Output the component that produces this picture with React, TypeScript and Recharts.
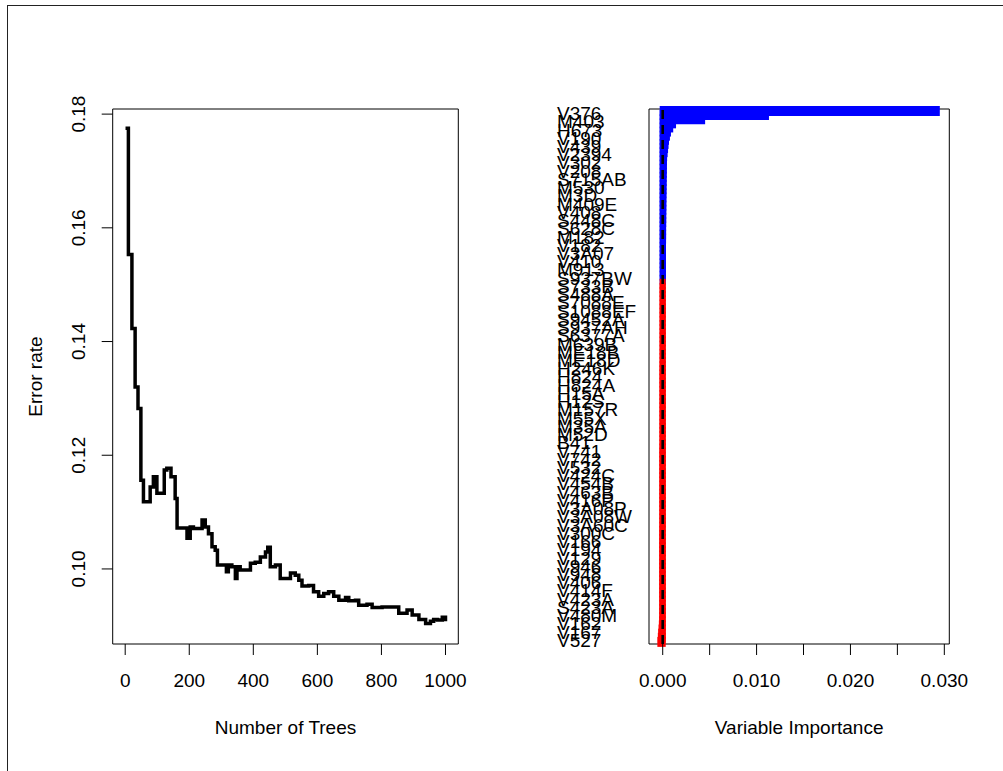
import React from 'react';
import {
  LineChart,
  Line,
  BarChart,
  Bar,
  Cell,
  XAxis,
  YAxis,
  Label,
  ReferenceArea,
  ReferenceLine,
} from 'recharts';

const FONT = '"Liberation Sans", Arial, Helvetica, sans-serif';
const BLUE = '#0000ff';
const RED = '#ff0000';

// OOB error rate: tree count where the rate changes, and the rate from there on
const treeSteps = [
  1, 10, 21, 31, 40, 49, 57, 78, 88, 99, 122, 130, 143, 156, 162, 193, 203, 213, 240, 250,
  260, 271, 281, 288, 316, 322, 333, 344, 349, 359, 391, 406, 422, 438, 445, 453, 469, 484, 516, 531,
  542, 552, 573, 588, 604, 620, 635, 651, 667, 688, 698, 719, 729, 755, 771, 802, 854, 880, 896, 917,
  938, 953, 963, 975, 990, 1000,
];
const errorRates = [
  0.1775, 0.1553, 0.1423, 0.132, 0.1282, 0.1156, 0.1118, 0.1144, 0.1162, 0.1133, 0.1174, 0.1177, 0.1162, 0.1124, 0.1072, 0.1054, 0.1074, 0.1071, 0.1086, 0.1074,
  0.1062, 0.1039, 0.1033, 0.1007, 0.0995, 0.1007, 0.1004, 0.0983, 0.1004, 0.0998, 0.101, 0.1012, 0.1021, 0.103, 0.1038, 0.1004, 0.1007, 0.0983, 0.0993, 0.0989,
  0.098, 0.097, 0.0971, 0.096, 0.0952, 0.0957, 0.096, 0.0952, 0.0945, 0.095, 0.0944, 0.0945, 0.0936, 0.0938, 0.0932, 0.0933, 0.0922, 0.0928, 0.0919, 0.0911,
  0.0904, 0.0908, 0.0911, 0.091, 0.0915, 0.0908,
];
const treeTicks = [0, 200, 400, 600, 800, 1000];
const errTicks = [0.1, 0.12, 0.14, 0.16, 0.18];

// variables in importance order; only every other name gets a label on the axis
const labelledNames = [
  'V376', 'M403', 'H673', 'V190', 'V439', 'V2394', 'V302', 'V208', 'S715AB', 'M530',
  'M3D', 'M409E', 'V408', 'S448C', 'S628C', 'M182', 'V182', 'V3A07', 'V410', 'M913',
  'S937BW', 'S733B', 'S488A', 'S7088E', 'S1088EF', 'S9452A', 'S937AH', 'S6377A', 'M639B', 'ME18B',
  'ME18D', 'H246K', 'H824', 'H824A', 'H15A', 'H12S', 'M157R', 'M55X', 'M35A', 'M52D',
  'B41', 'V741', 'V742', 'V532', 'V424C', 'V454B', 'V463B', 'V416P', 'V3A08P', 'V3A08W',
  'V3A60C', 'V300C', 'V166', 'V194', 'V129', 'V946', 'V948', 'V406', 'V414F', 'V423A',
  'S423A', 'V480M', 'V162', 'V167', 'V527',
];
const otherNames = [
  'V155', 'M227', 'H610', 'V288', 'V371', 'V1980', 'V315', 'V233', 'S702C', 'M521',
  'M4A', 'M418', 'V415', 'S451D', 'S619A', 'M190', 'V177', 'V3A11', 'V422', 'M908',
  'S940C', 'S729A', 'S492B', 'S7091F', 'S1092E', 'S9461', 'S940AJ', 'S6380', 'M642A', 'ME21C',
  'ME21A', 'H251', 'H830', 'H830B', 'H19', 'H17A', 'M160S', 'M58', 'M38B', 'M55',
  'B44', 'V745', 'V747', 'V536', 'V428', 'V458', 'V467A', 'V419', 'V3A11P', 'V3A12',
  'V3A63', 'V304', 'V170', 'V197', 'V133', 'V950', 'V952', 'V410B', 'V418E', 'V426',
  'S426', 'V484', 'V165', 'V171', 'V530',
];
const varNames = labelledNames.flatMap((n, i) => [n, otherNames[i]]);

const importance = [
  0.0292, 0.011, 0.0042, 0.0011, 0.0008, 0.00056, 0.00045, 0.00035, 0.0003, 0.00025,
  0.0002, 0.00015, 0.00013, 0.00012, 0.00011, 0.0001, 0.00009, 0.00009, 0.00008, 0.00008,
  0.00007, 0.00007, 0.00006, 0.00006, 0.00006, 0.00005, 0.00005, 0.00005, 0.00004, 0.00004,
  0.00004, 0.00004, 0.00003, 0.00003, 0.00003, 0.00003, 0.00002, 0.00002, 0.00002, 0.00002,
  0.00001, 0.00001, -0.00001, -0.00001, -0.00001, -0.00001, -0.00001, -0.00001, -0.00001, -0.00001,
  -0.00001, -0.00001, -0.00001, -0.00001, -0.00001, -0.00001, -0.00001, -0.00001, -0.00001, -0.00001,
  -0.00001, -0.00001, -0.00002, -0.00002, -0.00002, -0.00002, -0.00002, -0.00002, -0.00002, -0.00002,
  -0.00002, -0.00002, -0.00002, -0.00002, -0.00002, -0.00002, -0.00002, -0.00002, -0.00002, -0.00002,
  -0.00002, -0.00002, -0.00003, -0.00003, -0.00003, -0.00003, -0.00003, -0.00003, -0.00003, -0.00003,
  -0.00003, -0.00003, -0.00003, -0.00003, -0.00003, -0.00003, -0.00003, -0.00003, -0.00003, -0.00003,
  -0.00003, -0.00003, -0.00004, -0.00004, -0.00004, -0.00004, -0.00004, -0.00004, -0.00004, -0.00004,
  -0.00004, -0.00004, -0.00004, -0.00004, -0.00004, -0.00004, -0.00004, -0.00004, -0.00004, -0.00004,
  -0.00004, -0.00004, -0.00004, -0.00004, -0.00006, -0.00009, -0.00012, -0.00016, -0.0002, -0.00025,
];
const impTicks = [0, 0.005, 0.01, 0.015, 0.02, 0.025, 0.03];

const tickStyle = { fill: '#000', fontSize: 19, fontFamily: FONT };
const titleStyle = { fill: '#000', fontSize: 19, fontFamily: FONT };

// R draws the y tick labels turned a quarter, reading upward
const RotatedTick = (props: any) => {
  const { x, y, payload } = props;
  return (
    <text transform={`translate(${x}, ${y}) rotate(-90)`} textAnchor="middle" {...tickStyle}>
      {payload.value.toFixed(2)}
    </text>
  );
};

const NameTick = (props: any) => {
  const { x, y, payload } = props;
  return (
    <text x={x - 92} y={y} dy={9} textAnchor="start" {...tickStyle}>
      {payload.value}
    </text>
  );
};

const ErrorTitle = (props: any) => {
  const { viewBox } = props;
  return (
    <text
      transform={`translate(${viewBox.x + 42}, ${viewBox.y + viewBox.height / 2}) rotate(-90)`}
      textAnchor="middle"
      {...titleStyle}
    >
      Error rate
    </text>
  );
};

export default function App() {
  const errData = treeSteps.map((t, i) => ({ trees: t, err: errorRates[i] }));
  const impData = varNames.map((n, i) => ({ name: n, imp: importance[i] }));

  return (
    <div style={{ position: 'fixed', left: 0, top: 0, width: 1003, height: 771, overflow: 'hidden', background: '#fff' }}>
      {/* device frame, runs off the right and bottom edges */}
      <div style={{ position: 'absolute', left: 7, top: 5, width: 1200, height: 1000, border: '1px solid #222' }} />

      <div style={{ position: 'absolute', left: 0, top: 0 }}>
        <LineChart width={500} height={771} data={errData} margin={{ top: 109, right: 41.7, bottom: 37, left: 0 }}>
          <XAxis
            type="number"
            dataKey="trees"
            domain={[-39, 1040]}
            ticks={treeTicks}
            interval={0}
            allowDataOverflow
            axisLine={false}
            tickLine={{ stroke: '#000' }}
            tickSize={11}
            tickMargin={19}
            tick={tickStyle}
            height={90}
          >
            <Label value="Number of Trees" position="insideBottom" offset={0} style={titleStyle} />
          </XAxis>
          <YAxis
            type="number"
            domain={[0.0868, 0.1809]}
            ticks={errTicks}
            interval={0}
            allowDataOverflow
            axisLine={false}
            tickLine={{ stroke: '#000' }}
            tickSize={11}
            tickMargin={16.7}
            width={112.7}
            tick={<RotatedTick />}
          >
            <Label content={<ErrorTitle />} />
          </YAxis>
          <ReferenceArea x1={-39} x2={1040} fill="none" stroke="#000" strokeWidth={1} ifOverflow="visible" />
          <Line
            type="stepAfter"
            dataKey="err"
            stroke="#000"
            strokeWidth={3.5}
            dot={false}
            isAnimationActive={false}
          />
        </LineChart>
      </div>

      <div style={{ position: 'absolute', left: 500, top: 0 }}>
        <BarChart
          width={503}
          height={771}
          data={impData}
          layout="vertical"
          barCategoryGap={0}
          margin={{ top: 109, right: 53.7, bottom: 37, left: 0 }}
        >
          <XAxis
            type="number"
            domain={[-0.00146, 0.03053]}
            ticks={impTicks}
            interval={0}
            allowDataOverflow
            axisLine={false}
            tickLine={{ stroke: '#000' }}
            tickSize={11}
            tickMargin={19}
            tick={tickStyle}
            tickFormatter={(v: number) => (Math.round(v * 1000) % 10 === 0 ? v.toFixed(3) : '')}
            height={90}
          >
            <Label value="Variable Importance" position="insideBottom" offset={0} style={titleStyle} />
          </XAxis>
          <YAxis
            type="category"
            dataKey="name"
            width={149}
            interval={1}
            axisLine={false}
            tickLine={false}
            tickSize={0}
            tickMargin={0}
            tick={<NameTick />}
          />
          <Bar dataKey="imp" strokeWidth={6} isAnimationActive={false}>
            {impData.map((d, i) => (
              <Cell key={`imp-${i}`} fill={d.imp > 0 ? BLUE : RED} stroke={d.imp > 0 ? BLUE : RED} />
            ))}
          </Bar>
          <ReferenceLine x={0} stroke="#000" strokeWidth={2.6} strokeDasharray="9 6" />
          <ReferenceArea x1={-0.00146} x2={0.03053} fill="none" stroke="#000" strokeWidth={1} ifOverflow="visible" />
        </BarChart>
      </div>
    </div>
  );
}
